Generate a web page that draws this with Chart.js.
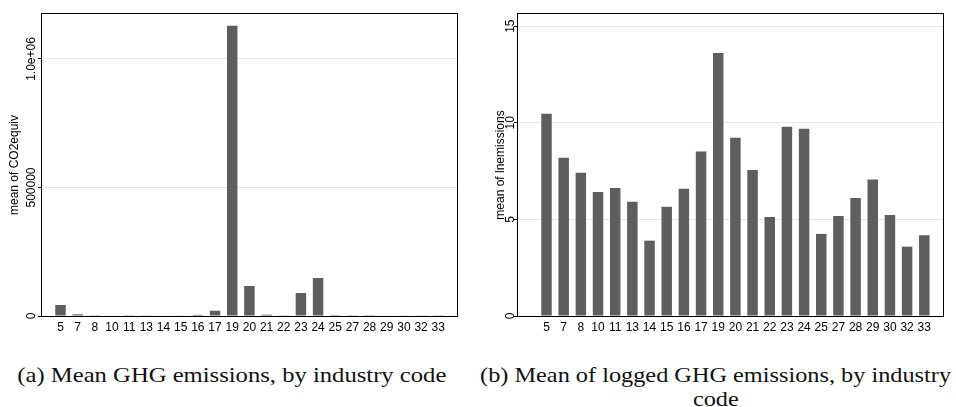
<!DOCTYPE html>
<html>
<head>
<meta charset="utf-8">
<script src="https://cdn.jsdelivr.net/npm/chart.js@4.4.0/dist/chart.umd.min.js"></script>
<style>
  html, body { margin: 0; padding: 0; background: #fff; width: 956px; height: 407px; overflow: hidden; }
  .panel { position: absolute; top: 0; width: 478px; height: 340px; }
  #panelA { left: 0; }
  #panelB { left: 478px; }
  .cap {
    position: absolute; white-space: nowrap; color: #111;
    font-family: "Liberation Serif", "Times New Roman", serif;
    font-size: 21px; line-height: 24px; transform-origin: center center;
  }
</style>
</head>
<body>
<div class="panel" id="panelA"><canvas id="chartA" width="478" height="340"></canvas></div>
<div class="panel" id="panelB"><canvas id="chartB" width="478" height="340"></canvas></div>
<div class="cap" id="capA" style="top:363px">(a) Mean GHG emissions, by industry code</div>
<div class="cap" id="capB1" style="top:363px">(b) Mean of logged GHG emissions, by industry</div>
<div class="cap" id="capB2" style="top:387px">code</div>

<script>
// Industry codes on the category axis
const industryCodes = ['5', '7', '8', '10', '11', '13', '14', '15', '16', '17', '19', '20',
                       '21', '22', '23', '24', '25', '27', '28', '29', '30', '32', '33'];

// Mean CO2-equivalent emissions per industry
const meanCO2equiv = [42800, 6600, 1000, 2000, 1000, 1000, 2000, 1500, 4500, 20600, 1129000, 116800,
                      5000, 1000, 89500, 148000, 500, 1000, 800, 2000, 1500, 1200, 1000];

// Mean of logged emissions per industry
const meanLnEmissions = [10.47, 8.19, 7.41, 6.42, 6.63, 5.91, 3.90, 5.65, 6.58, 8.51, 13.61, 9.22,
                         7.56, 5.13, 9.79, 9.69, 4.25, 5.18, 6.11, 7.06, 5.23, 3.59, 4.18];

// Y-axis ticks
const tickValuesA = [0, 500000, 1000000];
const tickLabelsA = ['0', '500000', '1.0e+06'];
const tickValuesB = [0, 5, 10, 15];
const tickLabelsB = ['0', '5', '10', '15'];

const SANS = '"Liberation Sans", Arial, Helvetica, sans-serif';

// Black frame around the plot region
const framePlugin = {
  id: 'frame',
  afterDatasetsDraw(chart) {
    const { ctx, chartArea: a } = chart;
    ctx.save();
    ctx.strokeStyle = '#000';
    ctx.lineWidth = 1;
    ctx.strokeRect(a.left - 0.5, a.top - 0.5, a.right - a.left + 1, a.bottom - a.top + 1);
    ctx.restore();
  }
};

// Vertical (rotated) y tick labels placed at the scale's tick positions
const rotatedYLabels = {
  id: 'rotatedYLabels',
  afterDraw(chart, args, opts) {
    const s = chart.scales.y;
    const ctx = chart.ctx;
    ctx.save();
    ctx.font = '12px ' + SANS;
    ctx.fillStyle = '#000';
    ctx.textAlign = 'center';
    ctx.textBaseline = 'middle';
    opts.values.forEach((v, i) => {
      const y = s.getPixelForValue(v);
      ctx.save();
      ctx.translate(opts.x, y);
      ctx.rotate(-Math.PI / 2);
      ctx.fillText(opts.labels[i], 0, 0);
      ctx.restore();
    });
    ctx.restore();
  }
};

function makeBarChart(id, values, cfg) {
  return new Chart(document.getElementById(id), {
    type: 'bar',
    data: {
      datasets: [{
        data: values.map((v, i) => ({ x: i, y: v })),
        backgroundColor: '#5e5e5e',
        borderWidth: 0,
        barPercentage: 0.61,
        categoryPercentage: 1.0
      }]
    },
    options: {
      responsive: false,
      animation: false,
      devicePixelRatio: 1,
      layout: { padding: { left: 0, top: 14, right: cfg.rightPad, bottom: 0 } },
      plugins: {
        legend: { display: false },
        tooltip: { enabled: false },
        rotatedYLabels: { values: cfg.tickValues, labels: cfg.tickLabels, x: cfg.labelX }
      },
      scales: {
        x: {
          type: 'linear',
          min: cfg.xMin,
          max: cfg.xMax,
          offset: false,
          afterBuildTicks: s => { s.ticks = industryCodes.map((_, i) => ({ value: i })); },
          afterFit: s => { s.height = 24; },
          ticks: {
            autoSkip: false, maxRotation: 0, minRotation: 0, padding: 4,
            color: '#000', font: { family: SANS, size: 12 },
            callback: v => industryCodes[v]
          },
          grid: { display: false, drawTicks: false, tickLength: 0, offset: false },
          border: { display: false }
        },
        y: {
          min: 0,
          max: cfg.yMax,
          afterBuildTicks: s => { s.ticks = cfg.tickValues.map(v => ({ value: v })); },
          afterFit: s => { s.width = cfg.axisWidth; },
          ticks: { display: false },
          grid: { color: '#e6e6e6', lineWidth: 1, drawTicks: true, tickLength: 4, tickColor: '#000' },
          border: { display: false },
          title: {
            display: true, text: cfg.title, color: '#000',
            font: { family: SANS, size: 12 },
            padding: { top: cfg.titlePad, bottom: 0 }
          }
        }
      }
    },
    plugins: [framePlugin, rotatedYLabels]
  });
}

makeBarChart('chartA', meanCO2equiv, {
  title: 'mean of CO2equiv', tickValues: tickValuesA, tickLabels: tickLabelsA,
  yMax: 1175000, xMin: -1.077, xMax: 23.09, axisWidth: 42, rightPad: 21,
  labelX: 32, titlePad: 7
});

makeBarChart('chartB', meanLnEmissions, {
  title: 'mean of lnemissions', tickValues: tickValuesB, tickLabels: tickLabelsB,
  yMax: 15.63, xMin: -1.66, xMax: 23.09, axisWidth: 40, rightPad: 13,
  labelX: 33, titlePad: 15
});

// Sub-figure captions, centred under each panel
function placeCaption(el, cx, targetW) {
  const w = el.getBoundingClientRect().width;
  el.style.left = (cx - w / 2) + 'px';
  const k = targetW ? targetW / w : 1;
  el.style.transform = 'scaleX(' + k + ')';
  return k;
}
placeCaption(document.getElementById('capA'), 231.5, 429);
const kB = placeCaption(document.getElementById('capB1'), 715.5, 471);
const b2 = document.getElementById('capB2');
const wb2 = b2.getBoundingClientRect().width;
b2.style.left = (716 - wb2 / 2) + 'px';
b2.style.transform = 'scaleX(' + kB + ')';
</script>
</body>
</html>
